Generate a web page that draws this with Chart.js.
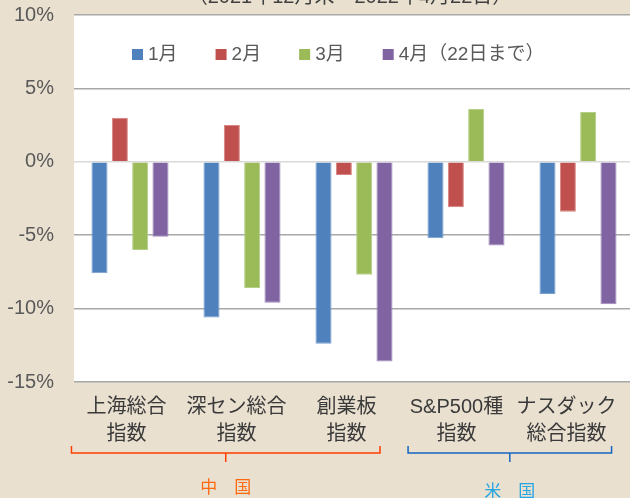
<!DOCTYPE html>
<html><head><meta charset="utf-8">
<script src="https://cdn.jsdelivr.net/npm/chart.js@4/dist/chart.umd.min.js"></script>
<style>
html,body{margin:0;padding:0;background:#E9E0D0;overflow:hidden;width:630px;height:498px}
canvas{display:block}
</style></head><body>
<canvas id="c" width="634" height="498"></canvas>
<script>
// ---- data ----
const categories = [['上海総合','指数'],['深セン総合','指数'],['創業板','指数'],['S&P500種','指数'],['ナスダック','総合指数']];
const seriesLabels = ['1月','2月','3月','4月（22日まで）'];
const jan = [-7.6, -10.6, -12.4, -5.2, -9.0];
const feb = [3.0, 2.5, -0.9, -3.1, -3.4];
const mar = [-6.0, -8.6, -7.7, 3.6, 3.4];
const apr = [-5.1, -9.6, -13.6, -5.7, -9.7];
const yTicks = [-15, -10, -5, 0, 5, 10];
const titleText = '（2021年12月末～2022年4月22日）';
const groupNames = ['中　国', '米　国'];
const groupRanges = [[0, 2], [3, 4]];

// ---- style ----
const colors = ['#4F81BD', '#C0504D', '#9BBB59', '#8064A2'];
const borders = ['#7A9FD0', '#D98482', '#B5CF86', '#A08BBD'];
const LATIN = '"Liberation Sans", Arial, "Noto Sans CJK JP", sans-serif';
const CJK = '"Liberation Sans", "Noto Sans CJK JP", sans-serif';
const groupStyle = [
  {from: -0.5, to: 2.305, line: '#FF3D00', text: '#FF6A10', ty: 487},
  {from: 2.56, to: 4.41, line: '#1565C0', text: '#27A6E2', ty: 491}
];

const deco = {
  id: 'deco',
  beforeDraw(chart) {
    const {ctx, chartArea: a} = chart;
    ctx.save();
    ctx.fillStyle = '#FFFFFF';
    ctx.fillRect(a.left, a.top, a.right - a.left, a.bottom - a.top);
    ctx.restore();
  },
  afterDraw(chart) {
    const ctx = chart.ctx;
    const xl = chart.scales.xl;
    ctx.save();
    // title (cut off at the top)
    ctx.font = '20px ' + CJK;
    ctx.fillStyle = '#404040';
    ctx.textAlign = 'center';
    ctx.textBaseline = 'alphabetic';
    ctx.fillText(titleText, 350, 3);
    // legend
    ctx.font = '19px ' + CJK;
    ctx.textAlign = 'left';
    ctx.textBaseline = 'middle';
    let x = 132;
    chart.data.datasets.forEach((ds, i) => {
      ctx.fillStyle = ds.backgroundColor;
      ctx.fillRect(x, 49, 11, 11);
      ctx.fillStyle = '#595959';
      ctx.fillText(ds.label, x + 16, 55);
      x += 16 + ctx.measureText(ds.label).width + 38;
    });
    // brackets and group names
    groupNames.forEach((name, g) => {
      const st = groupStyle[g];
      const L = xl.getPixelForValue(st.from);
      const R = xl.getPixelForValue(st.to);
      const C = (L + R) / 2;
      ctx.strokeStyle = st.line;
      ctx.lineWidth = 1.5;
      ctx.beginPath();
      ctx.moveTo(L, 446); ctx.lineTo(L, 453); ctx.lineTo(R, 453); ctx.lineTo(R, 446);
      ctx.moveTo(C, 453); ctx.lineTo(C, 462);
      ctx.stroke();
      ctx.fillStyle = st.text;
      ctx.font = '17px "Noto Sans CJK JP", sans-serif';
      ctx.textAlign = 'center';
      ctx.fillText(name, C, st.ty);
    });
    ctx.restore();
  }
};

new Chart(document.getElementById('c'), {
  type: 'bar',
  data: {
    labels: categories.map(c => c.join('')),
    datasets: [jan, feb, mar, apr].map((d, i) => ({
      label: seriesLabels[i],
      data: d,
      backgroundColor: colors[i],
      borderColor: borders[i],
      borderWidth: 1,
      categoryPercentage: 0.726,
      barPercentage: 0.79,
      xAxisID: 'x'
    }))
  },
  options: {
    responsive: false,
    animation: false,
    devicePixelRatio: 1,
    layout: {padding: {top: 15, left: 0, right: 0, bottom: 0}},
    plugins: {legend: {display: false}, tooltip: {enabled: false}, title: {display: false}},
    scales: {
      x: {type: 'category', display: false, offset: true},
      xl: {
        type: 'linear', position: 'bottom', min: -0.477, max: 4.614, bounds: 'data', offset: false,
        grid: {display: false, drawTicks: false, offset: false}, border: {display: false},
        afterBuildTicks: s => { s.ticks = categories.map((_, i) => ({value: i})); },
        afterFit: s => { s.height = 116; s.paddingLeft = 0; s.paddingRight = 0; },
        ticks: {
          padding: 12, autoSkip: false, maxRotation: 0, minRotation: 0,
          color: '#3A3A3A',
          font: {family: CJK, size: 20, lineHeight: 1.35},
          callback: v => categories[v]
        }
      },
      y: {
        min: -15, max: 10,
        afterBuildTicks: s => { s.ticks = yTicks.map(v => ({value: v})); },
        afterFit: s => { s.width = 74; s.paddingTop = 0; s.paddingBottom = 0; },
        grid: {
          color: c => (c.tick && c.tick.value === 0) ? '#D9D9D9' : '#A8A8A8',
          lineWidth: 1.5, drawTicks: false
        },
        border: {display: false},
        ticks: {padding: 20, color: '#595959', font: {family: LATIN, size: 20}, callback: v => v + '%'}
      }
    }
  },
  plugins: [deco]
});
</script>
</body></html>
